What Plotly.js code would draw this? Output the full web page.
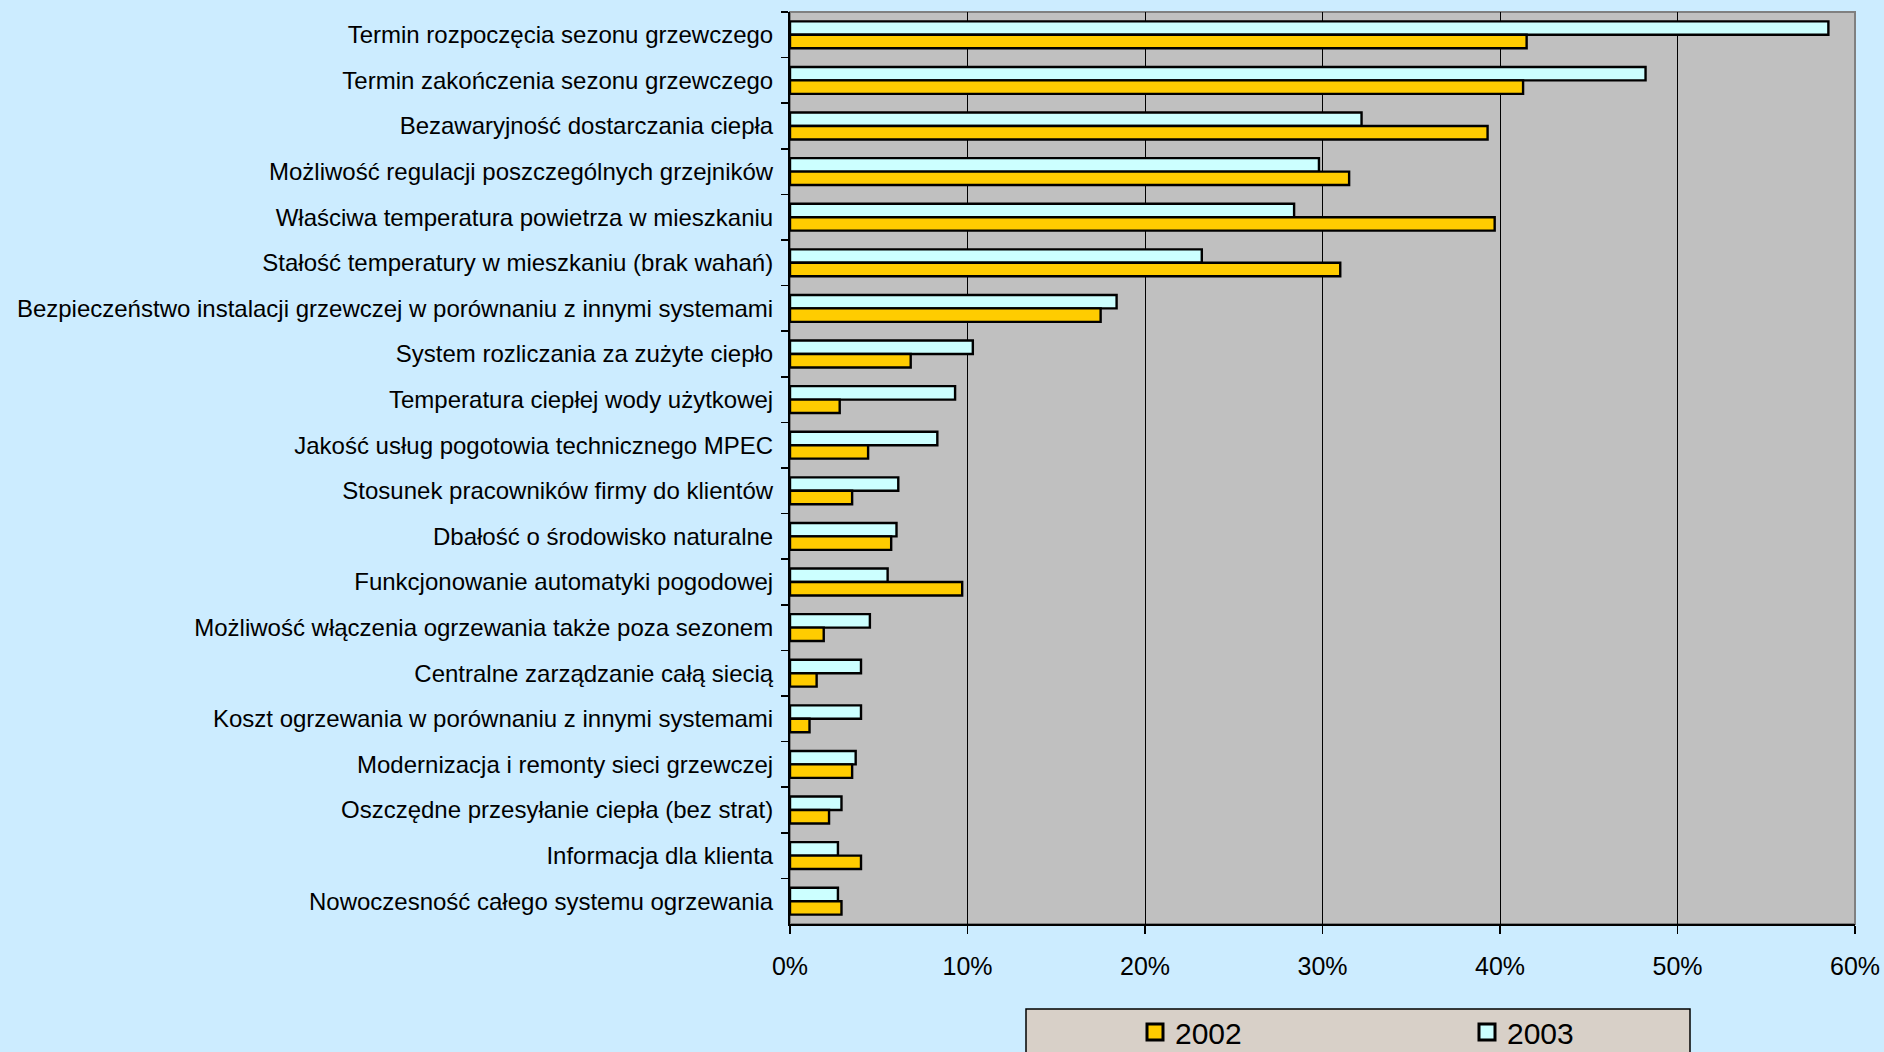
<!DOCTYPE html>
<html>
<head>
<meta charset="utf-8">
<script src="https://cdn.plot.ly/plotly-3.0.1.min.js"></script>
<style>
  html, body { margin: 0; padding: 0; background: #CCECFF; }
  #chart { width: 1884px; height: 1052px; }
</style>
</head>
<body>
<div id="chart"></div>
<script>
const categories = [
  "Termin rozpoczęcia sezonu grzewczego",
  "Termin zakończenia sezonu grzewczego",
  "Bezawaryjność dostarczania ciepła",
  "Możliwość regulacji poszczególnych grzejników",
  "Właściwa temperatura powietrza w mieszkaniu",
  "Stałość temperatury w mieszkaniu (brak wahań)",
  "Bezpieczeństwo instalacji grzewczej w porównaniu z innymi systemami",
  "System rozliczania za zużyte ciepło",
  "Temperatura ciepłej wody użytkowej",
  "Jakość usług pogotowia technicznego MPEC",
  "Stosunek pracowników firmy do klientów",
  "Dbałość o środowisko naturalne",
  "Funkcjonowanie automatyki pogodowej",
  "Możliwość włączenia ogrzewania także poza sezonem",
  "Centralne zarządzanie całą siecią",
  "Koszt ogrzewania w porównaniu z innymi systemami",
  "Modernizacja i remonty sieci grzewczej",
  "Oszczędne przesyłanie ciepła (bez strat)",
  "Informacja dla klienta",
  "Nowoczesność całego systemu ogrzewania"
];
const values2003 = [0.585, 0.482, 0.322, 0.298, 0.284, 0.232, 0.184, 0.103, 0.093, 0.083, 0.061, 0.060, 0.055, 0.045, 0.040, 0.040, 0.037, 0.029, 0.027, 0.027];
const values2002 = [0.415, 0.413, 0.393, 0.315, 0.397, 0.310, 0.175, 0.068, 0.028, 0.044, 0.035, 0.057, 0.097, 0.019, 0.015, 0.011, 0.035, 0.022, 0.040, 0.029];
const seriesNames = ["2002", "2003"];
const seriesColors = {"2002": "#FFCC00", "2003": "#CCFFFF"};
const xTickVals = [0, 0.1, 0.2, 0.3, 0.4, 0.5, 0.6];
const xTickText = ["0%", "10%", "20%", "30%", "40%", "50%", "60%"];

const FONT = "Liberation Sans, Arial, sans-serif";

const barStyle = (name) => ({
  color: seriesColors[name],
  line: { color: "#000000", width: 2.4 }
});

const traces = [
  { type: "bar", orientation: "h", name: "2003", y: categories, x: values2003,
    marker: barStyle("2003"), showlegend: false, hoverinfo: "x+y" },
  { type: "bar", orientation: "h", name: "2002", y: categories, x: values2002,
    marker: barStyle("2002"), showlegend: false, hoverinfo: "x+y" }
];
// legend-only entries with larger square symbols
seriesNames.forEach(n => {
  traces.push({
    type: "scatter", mode: "markers", name: n, x: [null], y: [null],
    marker: { symbol: "square", size: 16, color: seriesColors[n], line: { color: "#000000", width: 3 } },
    showlegend: true, hoverinfo: "skip"
  });
});

const layout = {
  width: 1884, height: 1052,
  paper_bgcolor: "#CCECFF",
  plot_bgcolor: "#C0C0C0",
  margin: { l: 790, r: 29, t: 12, b: 128, pad: 0, autoexpand: false },
  font: { family: FONT, size: 24, color: "#000000" },
  barmode: "group",
  bargap: 0.41,
  bargroupgap: 0,
  xaxis: {
    range: [0, 0.6],
    tickvals: xTickVals, ticktext: xTickText,
    showgrid: true, gridcolor: "#000000", gridwidth: 1,
    zeroline: false,
    showline: true, linecolor: "#000000", linewidth: 2,
    ticks: "outside", ticklen: 8, tickwidth: 1.5, tickcolor: "#000000",
    ticklabelstandoff: 11,
    tickfont: { family: FONT, size: 25, color: "#000000" },
    fixedrange: true
  },
  yaxis: {
    type: "category",
    autorange: "reversed",
    showgrid: false, zeroline: false,
    showline: true, linecolor: "#000000", linewidth: 2,
    ticks: "outside", tickson: "boundaries", ticklen: 7, tickwidth: 1.5, tickcolor: "#000000",
    ticklabelstandoff: 10,
    tickfont: { family: FONT, size: 24, color: "#000000" },
    fixedrange: true
  },
  shapes: [
    { type: "rect", xref: "paper", yref: "paper", x0: 0, x1: 1, y0: 0, y1: 1,
      line: { color: "#808080", width: 2 }, fillcolor: "rgba(0,0,0,0)", layer: "below" },
    { type: "rect", xref: "paper", yref: "paper",
      x0: (1026 - 790) / 1065, x1: (1690 - 790) / 1065,
      y0: -(1009 - 924) / 912, y1: -(1070 - 924) / 912,
      line: { color: "#000000", width: 1.5 }, fillcolor: "#D8D0C8", layer: "below" }
  ],
  legend: {
    orientation: "h",
    x: (1135 - 790) / 1065, xanchor: "left",
    y: -(1032 - 924) / 912, yanchor: "middle",
    bgcolor: "rgba(0,0,0,0)", borderwidth: 0,
    entrywidth: 287, entrywidthmode: "pixels",
    itemsizing: "trace",
    font: { family: FONT, size: 30, color: "#000000" },
    itemclick: false, itemdoubleclick: false
  },
  showlegend: true
};

Plotly.newPlot("chart", traces, layout, { displayModeBar: false, staticPlot: true });
</script>
</body>
</html>
